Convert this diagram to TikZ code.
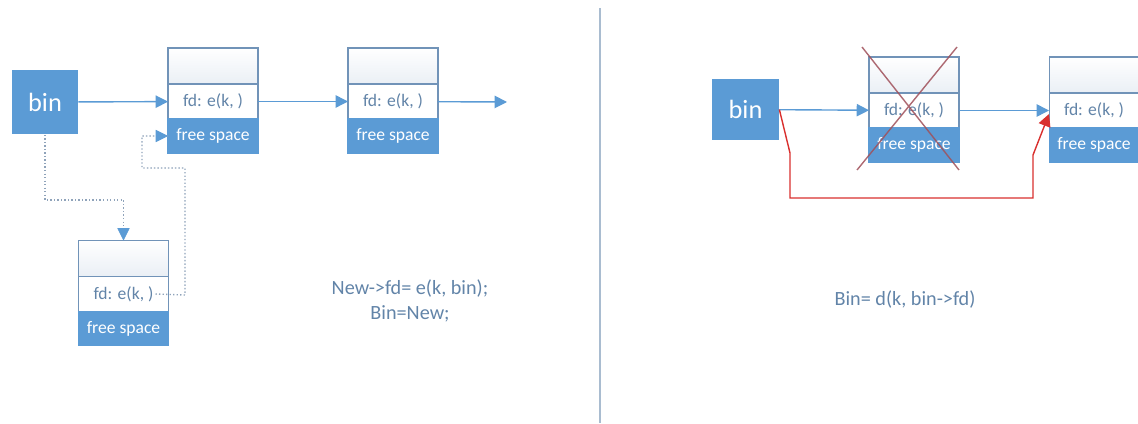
\documentclass[tikz,border=0pt]{standalone}
\usepackage{fontspec}
\setmainfont{Carlito}
\usetikzlibrary{positioning,arrows.meta}
\definecolor{boxblue}{HTML}{5B9BD5}
\definecolor{cellline}{HTML}{7193B8}
\definecolor{headshade}{HTML}{EAEFF5}
\definecolor{codegray}{HTML}{6284A8}
\definecolor{dotgray}{HTML}{8FA3BA}
\definecolor{cutred}{HTML}{D9302E}
\definecolor{crossred}{HTML}{A0505A}
\definecolor{rulegray}{HTML}{A9BCD0}
\begin{document}
\begin{tikzpicture}[x=0.02cm,y=-0.02cm,
  cell/.style={draw=cellline,line width=0.6pt,minimum width=1.8cm,inner sep=0pt,outer sep=0pt,
    text=codegray,font=\fontsize{10}{11}\selectfont},
  head/.style={cell,minimum height=0.72cm,top color=white,bottom color=headshade},
  fdcell/.style={cell,minimum height=0.7cm,fill=white},
  freecell/.style={cell,minimum height=0.68cm,fill=boxblue,draw=boxblue,text=white},
  binbox/.style={fill=boxblue,text=white,inner sep=0pt,font=\fontsize{15}{16}\selectfont},
  link/.style={draw=boxblue,line width=0.8pt,-{Triangle[length=7pt,width=7pt]}},
  dots/.style={draw=dotgray,line width=0.8pt,dash pattern=on 0.8pt off 1.2pt},
  code/.style={text=codegray,align=center,font=\fontsize{11.5}{14}\selectfont}]
\useasboundingbox (0,0) rectangle (1138,423);
% left half: pushing a new chunk in front of the bin
\node[binbox,minimum width=1.32cm,minimum height=1.3cm] (binL) at (45,102) {bin};
\node[head] (aTop) at (213,66) {};
\node[fdcell,below=0pt of aTop] (aFd) {fd: e(k, )};
\node[freecell,below=0pt of aFd] (aFree) {free space};
\node[head] (bTop) at (393,66) {};
\node[fdcell,below=0pt of bTop] (bFd) {fd: e(k, )};
\node[freecell,below=0pt of bFd] (bFree) {free space};
\node[head] (cTop) at (123.5,258.5) {};
\node[fdcell,below=0pt of cTop] (cFd) {fd: e(k, )};
\node[freecell,below=0pt of cFd] (cFree) {free space};
\coordinate (out) at (507,102);
\draw[link] (binL) -- (aFd);
\draw[link] (aFd) -- (bFd);
\draw[link] (bFd) -- (out);
\draw[dots] (binL.south) -- ++(0,65) -| (cTop.north);
\draw[dots] ([xshift=-0.26cm]cFd.east) -- (185,295) |- (142,168) |- (aFree.west);
\draw[-{Triangle[length=7pt,width=7pt]},boxblue] (cTop.north)++(0,-12) -- (cTop.north);
\draw[-{Triangle[length=7pt,width=7pt]},boxblue] (aFree.west)++(-12,0) -- (aFree.west);
\node[code] (push) at (410,301) {New->fd= e(k, bin);\\Bin=New;};
% divider
\draw[rulegray,line width=0.6pt] (600,8) -- (600,423);
% right half: unlinking the first chunk
\node[binbox,minimum width=1.34cm,minimum height=1.22cm] (binR) at (745.5,109.5) {bin};
\node[head] (mTop) at (914,75) {};
\node[fdcell,below=0pt of mTop] (mFd) {fd: e(k, )};
\node[freecell,below=0pt of mFd] (mFree) {free space};
\node[head] (rTop) at (1094,75) {};
\node[fdcell,below=0pt of rTop] (rFd) {fd: e(k, )};
\node[freecell,below=0pt of rFd] (rFree) {free space};
\draw[link] (binR) -- (mFd);
\draw[link] (mFd) -- (rFd);
\draw[cutred,line width=0.8pt,-{Triangle[length=7pt,width=7pt]}]
  (binR.east) -- (790,153) -- (790,198) -- (1033,198) -- (1033,155) -- ([yshift=-2pt]rFd.west);
\draw[crossred,line width=0.8pt,opacity=0.85] (862,47) -- (959,170) (957,47) -- (857,170);
\node[code] (pop) at (905,300) {Bin= d(k, bin->fd)};
\end{tikzpicture}
\end{document}
